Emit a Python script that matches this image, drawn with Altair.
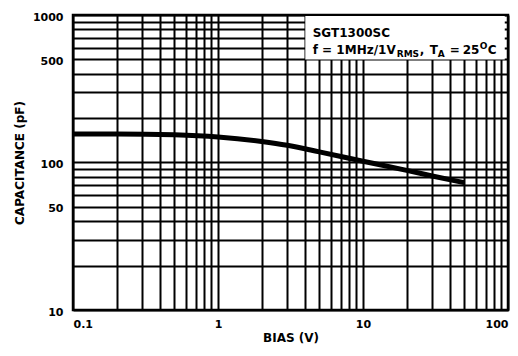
import altair as alt
import pandas as pd

# Curve data
bias_v = [0.1, 0.2, 0.5, 1, 2, 3, 5, 10, 20, 30, 50]
cap_pf = [156, 156, 154, 149, 139, 131, 118, 102, 88.5, 81, 73]

# Axis grid / label values
x_grid = [0.1, 0.2, 0.3, 0.4, 0.5, 0.6, 0.7, 0.8, 0.9,
          1, 2, 3, 4, 5, 6, 7, 8, 9,
          10, 20, 30, 40, 50, 60, 70, 80, 90, 100]
x_labels = [0.1, 1, 10, 100]
y_grid = [10, 20, 30, 40, 50, 60, 70, 80, 90,
          100, 200, 300, 400, 500, 600, 700, 800, 900, 1000]
y_labels = [10, 50, 100, 500, 1000]

# Annotation box (data space) and text pieces
box_x = [4, 95]
box_y = [500, 985]
line1_anchor = (4.5, 710)
line2_anchor = (4.5, 545)
line1_text = "SGT1300SC"
line2_pieces = ["f = 1MHz/1V", "RMS", ",", "T", "A", "=", "25", "O", "C"]
line2_dx = [0, 84, 107, 117, 125, 137, 150, 167, 175]
line2_dy = [0, 3, 0, 0, 3, 0, 0, -5, 0]
line2_size = [12, 9, 12, 12, 9, 12, 12, 9, 12]

FONT = "DejaVu Sans"

xscale = alt.Scale(type="log", domain=[0.1, 100], nice=False)
yscale = alt.Scale(type="log", domain=[10, 1000], nice=False)

x_lab_expr = "indexof(" + str(x_labels) + ", datum.value) >= 0 ? format(datum.value, '~g') : ''"
y_lab_expr = "indexof(" + str(y_labels) + ", datum.value) >= 0 ? format(datum.value, '~g') : ''"

curve_df = pd.DataFrame({"bias": bias_v, "cap": cap_pf})

curve = alt.Chart(curve_df).mark_line(
    color="black", strokeWidth=5, interpolate="monotone"
).encode(
    x=alt.X("bias:Q", scale=xscale, title="BIAS (V)",
            axis=alt.Axis(values=x_grid, labelExpr=x_lab_expr, labelPadding=8,
                          titlePadding=3, labelBaseline="top")),
    y=alt.Y("cap:Q", scale=yscale, title="CAPACITANCE (pF)",
            axis=alt.Axis(values=y_grid, labelExpr=y_lab_expr, labelPadding=10,
                          titlePadding=6, labelOffset=2)),
)

box_df = pd.DataFrame({"x1": [box_x[0]], "x2": [box_x[1]],
                       "y1": [box_y[0]], "y2": [box_y[1]]})
box = alt.Chart(box_df).mark_rect(color="white").encode(
    x=alt.X("x1:Q", scale=xscale), x2="x2:Q",
    y=alt.Y("y1:Q", scale=yscale), y2="y2:Q",
)

layers = [curve, box]

l1_df = pd.DataFrame({"x": [line1_anchor[0]], "y": [line1_anchor[1]], "t": [line1_text]})
layers.append(
    alt.Chart(l1_df).mark_text(align="left", baseline="alphabetic", font=FONT,
                               fontWeight="bold", fontSize=12, color="black").encode(
        x=alt.X("x:Q", scale=xscale), y=alt.Y("y:Q", scale=yscale), text="t:N")
)

for t, dx, dy, sz in zip(line2_pieces, line2_dx, line2_dy, line2_size):
    df = pd.DataFrame({"x": [line2_anchor[0]], "y": [line2_anchor[1]], "t": [t]})
    layers.append(
        alt.Chart(df).mark_text(align="left", baseline="alphabetic", font=FONT,
                                fontWeight="bold", fontSize=sz, color="black",
                                dx=dx, dy=dy).encode(
            x=alt.X("x:Q", scale=xscale), y=alt.Y("y:Q", scale=yscale), text="t:N")
    )

chart = alt.layer(*layers).properties(
    width=435, height=295,
    autosize=alt.AutoSizeParams(type="none"),
    padding={"left": 65, "top": 7, "right": 2, "bottom": 38},
    background="white",
).configure_view(
    stroke="black", strokeWidth=2.5
).configure_axis(
    grid=True, gridColor="black", gridWidth=2, gridOpacity=1,
    domain=False, ticks=False, tickSize=0,
    labelFont=FONT, labelFontWeight="bold", labelFontSize=11, labelColor="black",
    titleFont=FONT, titleFontWeight="bold", titleFontSize=12, titleColor="black",
)

chart.save("out.html", embed_options={"renderer": "svg", "actions": False})
